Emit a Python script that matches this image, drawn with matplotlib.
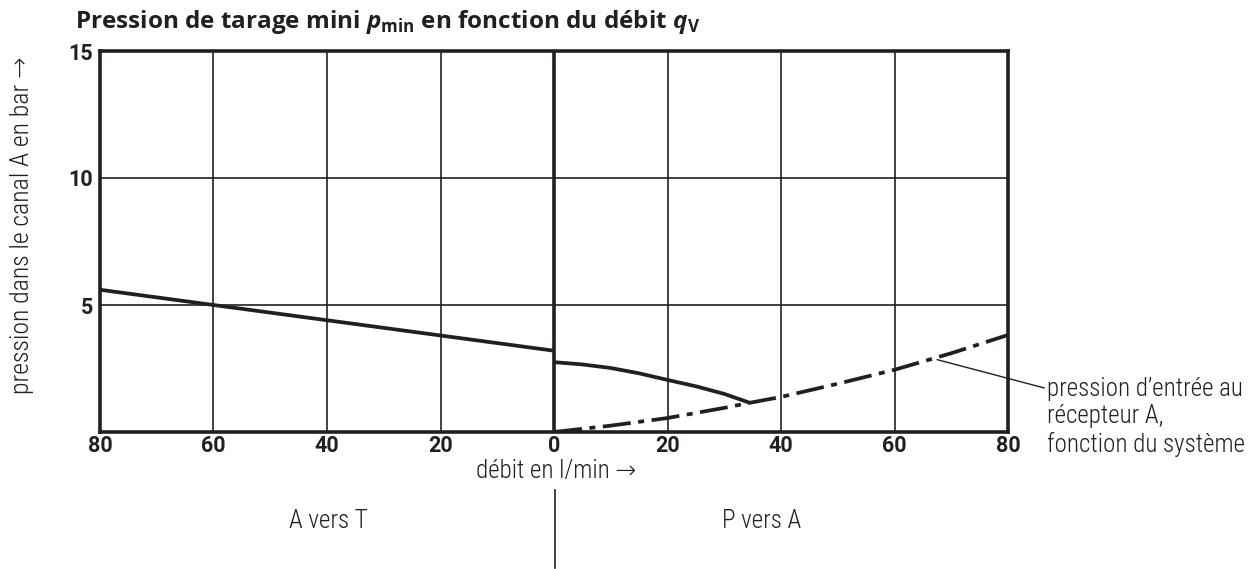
import matplotlib
matplotlib.use("Agg")
import matplotlib.pyplot as plt
from matplotlib import font_manager as fm

# ---- data ----
x_ticks = [-80, -60, -40, -20, 0, 20, 40, 60, 80]
x_tick_labels = ["80", "60", "40", "20", "0", "20", "40", "60", "80"]
y_ticks = [5, 10, 15]
y_tick_labels = ["5", "10", "15"]

# A vers T (left half, plotted at negative x)
at_x = [-80, -60, -40, -20, 0]
at_y = [5.6, 5.0, 4.4, 3.8, 3.2]

# P vers A, pmin curve
pa_x = [0, 5, 10, 15, 20, 25, 30, 34.5]
pa_y = [2.75, 2.66, 2.52, 2.31, 2.05, 1.8, 1.5, 1.15]

# inlet pressure at consumer A (system dependent)
sys_x = [0, 10, 20, 30, 34.5, 40, 50, 60, 70, 80]
sys_y = [0.0, 0.25, 0.55, 0.95, 1.15, 1.38, 1.9, 2.45, 3.1, 3.82]

names = {f.name for f in fm.fontManager.ttflist}
def pick(cands):
    for c in cands:
        if c in names:
            return c
    return "DejaVu Sans"

light = pick(["Roboto Condensed", "Liberation Sans Narrow", "Open Sans Condensed", "Roboto", "Lato"])
bold = pick(["Roboto", "Open Sans", "Lato"])
title_font = pick(["Open Sans", "Roboto", "Lato"])
plt.rcParams['font.family'] = [light, 'DejaVu Sans']
plt.rcParams['mathtext.fontset'] = 'custom'
plt.rcParams['mathtext.bf'] = title_font + ':bold'
plt.rcParams['mathtext.rm'] = title_font + ':bold'
plt.rcParams['mathtext.bfit'] = title_font + ':italic:bold'

fig = plt.figure(figsize=(12.54, 5.69), dpi=100)
ax = fig.add_axes([100/1254, 1-432/569, 908/1254, 381/569])
ax.set_xlim(-80, 80)
ax.set_ylim(0, 15)

ink = "#231f20"
for xv in [-60, -40, -20, 20, 40, 60]:
    ax.axvline(xv, color=ink, lw=1.2, zorder=1)
for yv in [5, 10]:
    ax.axhline(yv, color=ink, lw=1.2, zorder=1)
ax.axvline(0, color=ink, lw=2.6, zorder=2)

for s in ax.spines.values():
    s.set_linewidth(2.6)
    s.set_color(ink)

ax.plot(at_x, at_y, color=ink, lw=2.7, zorder=3, solid_capstyle='butt')
ax.plot(pa_x, pa_y, color=ink, lw=2.7, zorder=3, solid_capstyle='butt')
ax.plot(sys_x, sys_y, color=ink, lw=2.7, zorder=3, linestyle=(0, (7.5, 2.0, 1.6, 2.0)))

ax.set_xticks(x_ticks)
ax.set_xticklabels(x_tick_labels, fontsize=15.5, fontweight='bold', family=[bold, 'DejaVu Sans'], color=ink)
ax.set_yticks(y_ticks)
ax.set_yticklabels(y_tick_labels, fontsize=15.5, fontweight='bold', family=[bold, 'DejaVu Sans'], color=ink)
ax.tick_params(axis='x', length=0, pad=2)
ax.tick_params(axis='y', length=0, pad=5)

fig.text(75/1254, 1-22/569,
         r"Pression de tarage mini $\boldsymbol{p}_{\mathregular{min}}$ en fonction du débit $\boldsymbol{q}_{\mathregular{V}}$",
         fontsize=17.5, fontweight='bold', family=[title_font, 'DejaVu Sans'], va='center', ha='left', color=ink)

fs = 18
fig.text(556/1254, 1-471/569, "débit en l/min →", fontsize=fs, fontweight='light', ha='center', va='center', color=ink)
fig.text(22/1254, 1-225/569, "pression dans le canal A en bar →", fontsize=18.5, fontweight='light',
         ha='center', va='center', rotation=90, color=ink)
fig.text(328/1254, 1-521/569, "A vers T", fontsize=fs, fontweight='light', ha='center', va='center', color=ink)
fig.text(762/1254, 1-521/569, "P vers A", fontsize=fs, fontweight='light', ha='center', va='center', color=ink)
fig.add_artist(plt.Line2D([555/1254, 555/1254], [1-490/569, 1-568/569], color=ink, lw=1.2))

ax.annotate("pression d\u2019entrée au\nrécepteur A,\nfonction du système",
            xy=(67.5, 2.85), xycoords='data',
            xytext=(1047/1254, 1-417/569), textcoords='figure fraction',
            fontsize=fs, fontweight='light', ha='left', va='center', color=ink, linespacing=1.2,
            arrowprops=dict(arrowstyle='-', color=ink, lw=1.0, shrinkA=0, shrinkB=0,
                            relpos=(0, 0.85)),
            annotation_clip=False)

fig.savefig("out.png", dpi=100)
